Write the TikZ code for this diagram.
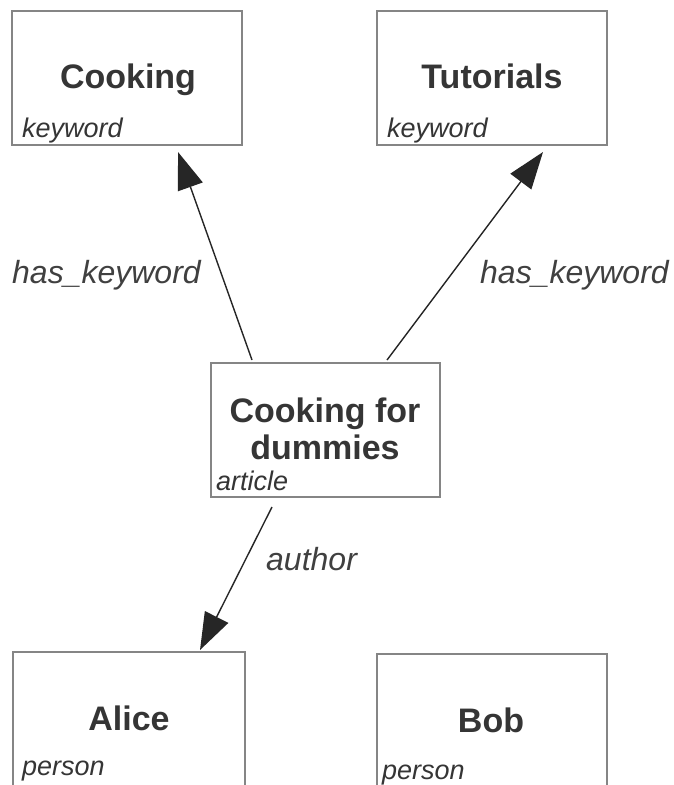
\documentclass[tikz,border=0pt]{standalone}
\usepackage{fontspec}
\setmainfont{Liberation Sans}
\usetikzlibrary{arrows.meta}
\definecolor{boxline}{HTML}{858585}
\definecolor{txt}{HTML}{353535}
\definecolor{lbl}{HTML}{404040}
\tikzset{
  entity/.style={draw=boxline, line width=1.4pt, fill=white, inner sep=0pt},
  title/.style={anchor=base, text=txt, font=\fontsize{34}{37}\selectfont\bfseries, inner sep=0pt, align=center},
  etype/.style={anchor=base west, text=txt, font=\fontsize{27}{30}\selectfont\itshape, inner sep=0pt},
  rel/.style={anchor=base west, text=lbl, font=\fontsize{32}{35}\selectfont\itshape, inner sep=0pt},
  link/.style={draw=black!85, line width=1.4pt, -{Triangle[length=37pt,width=26pt]}}
}
\begin{document}
\begin{tikzpicture}[x=1pt,y=-1pt]
\clip (0,0) rectangle (674,785);
\fill[white] (0,0) rectangle (674,785);
% boxes
\node[entity, minimum width=230pt, minimum height=134pt] (cook) at (127,78) {};
\node[entity, minimum width=230pt, minimum height=134pt] (tut) at (492,78) {};
\node[entity, minimum width=229pt, minimum height=134pt] (dum) at (325.5,430) {};
\node[entity, minimum width=232pt, minimum height=150pt] (alice) at (129,727) {};
\node[entity, minimum width=230pt, minimum height=150pt] (bob) at (492,729) {};
% titles
\node[title] (cookt) at (128,88) {Cooking};
\node[title] (tutt) at (492,88) {Tutorials};
\node[title] (dumt1) at (325,422) {Cooking for};
\node[title] (dumt2) at (325,459) {dummies};
\node[title] (alicet) at (129,730) {Alice};
\node[title] (bobt) at (491,732) {Bob};
% types
\node[etype] (cooky) at (22,137) {keyword};
\node[etype] (tuty) at (387,137) {keyword};
\node[etype] (dumy) at (216,490) {article};
\node[etype] (alicey) at (22,775) {person};
\node[etype] (boby) at (382,779) {person};
% connectors
\coordinate (s1) at (252,360);
\coordinate (e1) at (178,152);
\coordinate (s2) at (387,360);
\coordinate (e2) at (543,152);
\coordinate (s3) at (272,507);
\coordinate (e3) at (200,650);
\draw[link] (s1) -- (e1);
\draw[link] (s2) -- (e2);
\draw[link] (s3) -- (e3);
% labels
\node[rel] (l1) at (12,283) {has\_keyword};
\node[rel] (l2) at (480,283) {has\_keyword};
\node[rel] (l3) at (266,570) {author};
\end{tikzpicture}
\end{document}
